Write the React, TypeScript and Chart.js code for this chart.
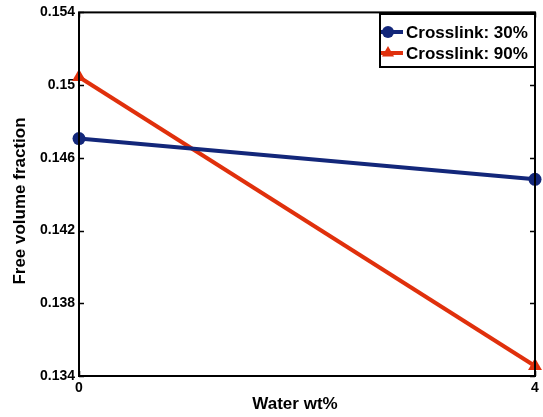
import React, { useEffect, useRef } from "react";
import { Chart, registerables } from "chart.js";

Chart.register(...registerables);

const waterWt = [0, 4];
const crosslink30 = [0.14706, 0.14482];
const crosslink90 = [0.15045, 0.13455];
const seriesLabels = ["Crosslink: 30%", "Crosslink: 90%"];
const yTicks = [0.134, 0.138, 0.142, 0.146, 0.15, 0.154];
const xTicks = [0, 4];

const BLUE = "#13277a";
const RED = "#e0300c";
const FONT_BIG = "bold 17px 'Liberation Sans', Arial, sans-serif";

const framePlugin = {
  id: "frameAndExtras",
  afterDatasetsDraw(chart: any) {
    const { ctx, chartArea } = chart;
    const { left, right, top, bottom } = chartArea;
    const xs = chart.scales.x;
    const ys = chart.scales.y;
    ctx.save();
    ctx.strokeStyle = "#000";
    ctx.lineWidth = 2;
    ctx.strokeRect(left, top, right - left, bottom - top);
    ctx.lineWidth = 1.5;
    ctx.beginPath();
    yTicks.forEach((v) => {
      const py = Math.round(ys.getPixelForValue(v)) + 0.5;
      ctx.moveTo(left, py);
      ctx.lineTo(left + 5, py);
      ctx.moveTo(right, py);
      ctx.lineTo(right - 5, py);
    });
    xTicks.forEach((v) => {
      const px = Math.round(xs.getPixelForValue(v)) + 0.5;
      ctx.moveTo(px, bottom);
      ctx.lineTo(px, bottom - 5);
      ctx.moveTo(px, top);
      ctx.lineTo(px, top + 5);
    });
    ctx.stroke();

    // axis titles
    ctx.fillStyle = "#000";
    ctx.font = FONT_BIG;
    ctx.textAlign = "center";
    ctx.textBaseline = "middle";
    ctx.fillText("Water wt%", 295, 404);
    ctx.save();
    ctx.translate(20, 201);
    ctx.rotate(-Math.PI / 2);
    ctx.fillText("Free volume fraction", 0, 0);
    ctx.restore();

    // legend
    const lx = 380, ly = 14, lw = 155, lh = 53;
    ctx.fillStyle = "#fff";
    ctx.fillRect(lx, ly, lw, lh);
    ctx.lineWidth = 2;
    ctx.strokeStyle = "#000";
    ctx.strokeRect(lx, ly, lw, lh);
    const rows = [32, 53];
    chart.data.datasets.forEach((ds: any, i: number) => {
      const y = rows[i];
      ctx.strokeStyle = ds.borderColor;
      ctx.fillStyle = ds.borderColor;
      ctx.lineWidth = 4;
      ctx.beginPath();
      ctx.moveTo(lx + 1, y);
      ctx.lineTo(lx + 23, y);
      ctx.stroke();
      const mx = lx + 8;
      ctx.beginPath();
      if (ds.pointStyle === "triangle") {
        const r = 7;
        ctx.moveTo(mx, y - r);
        ctx.lineTo(mx + r * 0.866, y + r * 0.5);
        ctx.lineTo(mx - r * 0.866, y + r * 0.5);
        ctx.closePath();
      } else {
        ctx.arc(mx, y, 6, 0, Math.PI * 2);
      }
      ctx.fill();
      ctx.fillStyle = "#000";
      ctx.font = FONT_BIG;
      ctx.textAlign = "left";
      ctx.textBaseline = "middle";
      ctx.fillText(ds.label, lx + 26, y + 1);
    });
    ctx.restore();
  },
};

export default function App() {
  const ref = useRef<HTMLCanvasElement>(null);
  useEffect(() => {
    if (!ref.current) return;
    const chart = new Chart(ref.current, {
      type: "line",
      data: {
        datasets: [
          {
            label: seriesLabels[0],
            data: waterWt.map((x, i) => ({ x, y: crosslink30[i] })),
            borderColor: BLUE,
            backgroundColor: BLUE,
            borderWidth: 4,
            pointStyle: "circle",
            pointRadius: 6.5,
            pointBorderWidth: 0,
            clip: false as any,
          },
          {
            label: seriesLabels[1],
            data: waterWt.map((x, i) => ({ x, y: crosslink90[i] })),
            borderColor: RED,
            backgroundColor: RED,
            borderWidth: 4,
            pointStyle: "triangle",
            pointRadius: 8,
            pointBorderWidth: 0,
            clip: false as any,
          },
        ],
      },
      options: {
        animation: false,
        responsive: false,
        layout: { padding: { top: 10, right: 5, left: 0, bottom: 0 } },
        plugins: { legend: { display: false }, tooltip: { enabled: false } },
        scales: {
          x: {
            type: "linear",
            min: 0,
            max: 4,
            grid: { display: false, drawTicks: false },
            border: { display: false },
            afterBuildTicks: (s: any) => {
              s.ticks = xTicks.map((v) => ({ value: v }));
            },
            afterFit: (s: any) => {
              s.height = 41;
            },
            ticks: {
              padding: 4,
              color: "#000",
              font: { family: "'Liberation Sans', Arial, sans-serif", size: 14, weight: "bold" },
              maxRotation: 0,
            },
          },
          y: {
            type: "linear",
            min: 0.134,
            max: 0.154,
            grid: { display: false, drawTicks: false },
            border: { display: false },
            afterBuildTicks: (s: any) => {
              s.ticks = yTicks.map((v) => ({ value: v }));
            },
            afterFit: (s: any) => {
              s.width = 79;
            },
            ticks: {
              padding: 4,
              color: "#000",
              font: { family: "'Liberation Sans', Arial, sans-serif", size: 14, weight: "bold" },
              callback: (v: any) => String(Number(Number(v).toFixed(3))),
            },
          },
        },
      },
      plugins: [framePlugin],
    });
    return () => chart.destroy();
  }, []);
  return (
    <div style={{ position: "fixed", left: 0, top: 0, width: 543, height: 417, background: "#fff" }}>
      <canvas ref={ref} width={543} height={417} style={{ width: 543, height: 417 }} />
    </div>
  );
}
